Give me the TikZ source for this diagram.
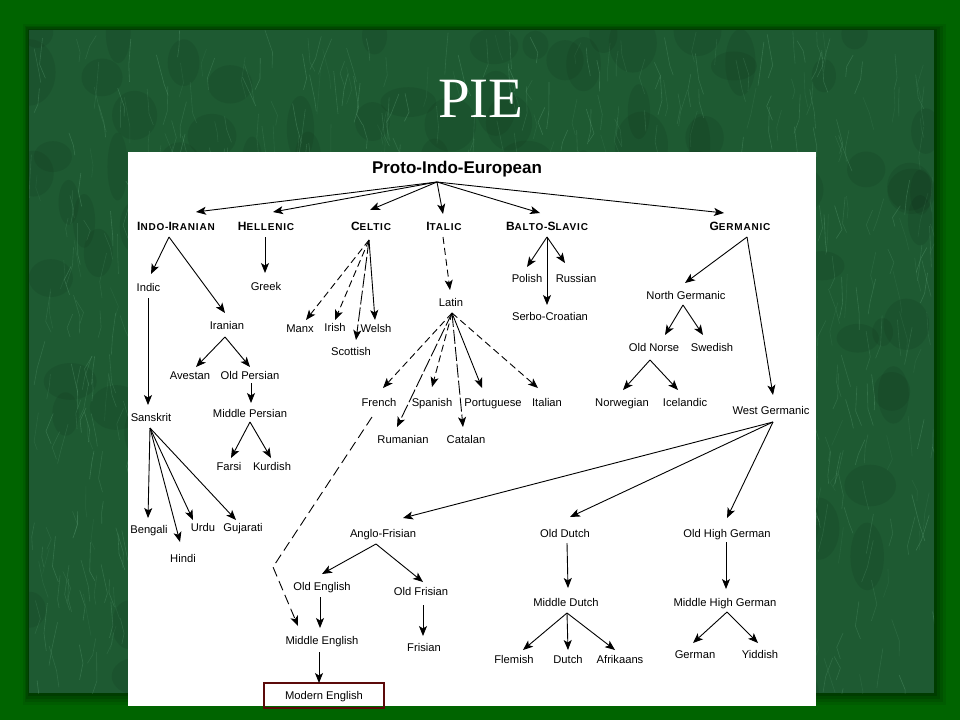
\documentclass[tikz,border=0pt]{standalone}
\usepackage{fontspec}
\setmainfont{Liberation Sans}
\newfontfamily\titlefont{Liberation Serif}
\newfontfamily\hdfont[LetterSpace=8]{Liberation Sans}
\usetikzlibrary{arrows.meta,calc}
\definecolor{outergreen}{HTML}{006400}
\definecolor{marble}{HTML}{1E5A32}
\definecolor{marblelight}{HTML}{6FB088}
\definecolor{boxred}{HTML}{5C0A0A}
\newcommand\hdr[4]{{\hdfont\bfseries\fontsize{12}{12}\selectfont #1\fontsize{10}{10}\selectfont #2\fontsize{12}{12}\selectfont #3\fontsize{10}{10}\selectfont #4}}
\newcommand\lnk[5][]{\draw[arr,#1] ($(#2)+(#3)$) -- ($(#4)+(#5)$);}
\begin{document}
\begin{tikzpicture}[x=1pt,y=-1pt,
  lang/.style={font=\fontsize{11.2}{12}\selectfont, inner sep=0pt, text height=8pt, text depth=0pt},
  hd/.style={inner sep=0pt, text height=8.6pt, text depth=0pt},
  arr/.style={-{Stealth[length=10pt,width=8pt,inset=2.5pt]}, line width=0.9pt},
  dsh/.style={dash pattern=on 7pt off 4pt},
]
\useasboundingbox (0,0) rectangle (960,720);
% background
\fill[outergreen] (0,0) rectangle (960,720);
\foreach \o/\a in {12/0.08,9/0.10,6/0.12,3/0.16}{
  \fill[black,opacity=\a] (29-\o/2,30-\o/2) rectangle (934+\o,693+\o);
}
\fill[marble] (29,30) rectangle (934,693);
\begin{scope}
  \clip (29,30) rectangle (934,693);
  \pgfmathsetseed{11}
  \foreach \i in {1,...,160}{
    \pgfmathsetmacro\xx{29+rnd*905}
    \pgfmathsetmacro\yy{30+rnd*663}
    \fill[black,opacity=0.07] (\xx,\yy) ellipse ({10+rnd*18} and {14+rnd*20});
  }
  \foreach \i in {1,...,900}{
    \pgfmathsetmacro\xx{29+rnd*905}
    \pgfmathsetmacro\yy{30+rnd*663}
    \pgfmathsetmacro\dx{rand*8}
    \pgfmathsetmacro\dy{10+rnd*22}
    \pgfmathsetmacro\op{0.10+rnd*0.22}
    \draw[marblelight,opacity=\op,line width=0.6pt] (\xx,\yy) -- ++(\dx,\dy) -- ++(rand*6,8+rnd*10);
  }
\end{scope}
\fill[white] (128,152) rectangle (816,706);

% title
\node[font=\titlefont\fontsize{57}{57}\selectfont, text=white, inner sep=0pt, text height=37.7pt, text depth=0pt] (title) at (481,99) {PIE};

% nodes
\node[font=\bfseries\fontsize{17}{17}\selectfont, inner sep=0pt, text height=12.2pt, text depth=0pt] (pie) at (457,167) {Proto-Indo-European};
\node[hd] (ii)  at (176,226) {\hdr{I}{NDO-}{I}{RANIAN}};
\node[hd] (hel) at (266,226) {\hdr{H}{ELLENIC}{}{}};
\node[hd] (cel) at (371,226) {\hdr{C}{ELTIC}{}{}};
\node[hd] (ita) at (444,226) {\hdr{I}{TALIC}{}{}};
\node[hd] (bs)  at (547,226) {\hdr{B}{ALTO-}{S}{LAVIC}};
\node[hd] (ger) at (740,226) {\hdr{G}{ERMANIC}{}{}};

\node[lang] (indic) at (148.5,287) {Indic};
\node[lang] (iranian) at (227,325) {Iranian};
\node[lang] (greek) at (266,286) {Greek};
\node[lang] (manx) at (300,328) {Manx};
\node[lang] (irish) at (335,327) {Irish};
\node[lang] (welsh) at (376,328) {Welsh};
\node[lang] (scottish) at (351,351) {Scottish};
\node[lang] (latin) at (451,302) {Latin};
\node[lang] (polish) at (527,278) {Polish};
\node[lang] (russian) at (576,278) {Russian};
\node[lang] (serbo) at (550,316) {Serbo-Croatian};
\node[lang] (northg) at (686,295) {North Germanic};
\node[lang] (oldnorse) at (654,347) {Old Norse};
\node[lang] (swedish) at (712,347) {Swedish};
\node[lang] (westg) at (771,410) {West Germanic};
\node[lang] (avestan) at (190,375) {Avestan};
\node[lang] (oldpersian) at (250,375) {Old Persian};
\node[lang] (midpersian) at (250,413) {Middle Persian};
\node[lang] (farsi) at (229,466) {Farsi};
\node[lang] (kurdish) at (272,466) {Kurdish};
\node[lang] (sanskrit) at (151,417) {Sanskrit};
\node[lang] (french) at (379,402) {French};
\node[lang] (spanish) at (432,402) {Spanish};
\node[lang] (portuguese) at (493,402) {Portuguese};
\node[lang] (italian) at (547,402) {Italian};
\node[lang] (rumanian) at (403,439) {Rumanian};
\node[lang] (catalan) at (466,439) {Catalan};
\node[lang] (norwegian) at (622,402) {Norwegian};
\node[lang] (icelandic) at (685,402) {Icelandic};
\node[lang] (bengali) at (149,529) {Bengali};
\node[lang] (hindi) at (183,558) {Hindi};
\node[lang] (urdu) at (203,527) {Urdu};
\node[lang] (gujarati) at (243,527) {Gujarati};
\node[lang] (anglofr) at (383,533) {Anglo-Frisian};
\node[lang] (olddutch) at (565,533) {Old Dutch};
\node[lang] (ohg) at (727,533) {Old High German};
\node[lang] (oldeng) at (322,586) {Old English};
\node[lang] (oldfris) at (421,591) {Old Frisian};
\node[lang] (mideng) at (322,640) {Middle English};
\node[lang] (frisian) at (424,647) {Frisian};
\node[lang] (middutch) at (566,602) {Middle Dutch};
\node[lang] (mhg) at (725,602) {Middle High German};
\node[lang] (flemish) at (514,659) {Flemish};
\node[lang] (dutch) at (568,659) {Dutch};
\node[lang] (afrikaans) at (620,659) {Afrikaans};
\node[lang] (german) at (695,654) {German};
\node[lang] (yiddish) at (760,654) {Yiddish};
\node[lang, draw=boxred, line width=1.6pt, minimum width=120pt, minimum height=25pt, inner sep=0pt] (modeng) at (324,695.5) {Modern English};
\coordinate (bend) at (273,567);

% connectors
\lnk{pie}{-20,15}{ii}{20,-14}
\lnk{pie}{-20,15}{hel}{7,-14}
\lnk{pie}{-20,15}{cel}{-1,-16}
\lnk{pie}{-20,15}{ita}{-1,-12}
\lnk{pie}{-20,15}{bs}{-7,-13}
\lnk{pie}{-20,15}{ger}{-16,-13}

\lnk{ii}{-7,11}{indic}{2.5,-13}
\lnk{ii}{-7,11}{iranian}{-2,-12}
\lnk{hel}{-1,11}{greek}{-1,-13}
\lnk[dsh]{cel}{-2,14}{manx}{6,-8}
\lnk[dsh]{cel}{-2,14}{irish}{0,-7}
\lnk[dash pattern=on 14pt off 3pt]{cel}{-2,14}{scottish}{5,-11}
\lnk{cel}{-2,14}{welsh}{-1,-8}
\lnk[dsh]{ita}{-1,11}{latin}{-1,-12}

\lnk[dsh]{latin}{1,11}{french}{4,-14}
\lnk[dsh]{latin}{1,11}{spanish}{0,-15}
\lnk{latin}{1,11}{portuguese}{-11,-14}
\lnk[dsh]{latin}{1,11}{italian}{-9,-14}
\lnk[dash pattern=on 14pt off 3pt]{latin}{1,11}{rumanian}{-6,-12}
\lnk[dash pattern=on 14pt off 3pt]{latin}{1,11}{catalan}{-3,-12}
\draw[arr,dash pattern=on 10pt off 5pt] ($(french)+(-7,15)$) -- (bend) -- ($(mideng)+(-24,-14)$);

\lnk{bs}{0,11}{polish}{0,-11}
\lnk{bs}{0,11}{russian}{-11,-15}
\lnk{bs}{0,11}{serbo}{-3,-11}

\lnk{ger}{7,11}{northg}{-1,-12}
\lnk{ger}{7,11}{westg}{2,-15}
\lnk{northg}{-3,10}{oldnorse}{11,-12}
\lnk{northg}{-3,10}{swedish}{-9,-12}
\lnk{oldnorse}{-4,13}{norwegian}{1,-12}
\lnk{oldnorse}{-4,13}{icelandic}{-7,-12}

\lnk{westg}{2,12}{anglofr}{20,-15}
\lnk{westg}{2,12}{olddutch}{5,-16}
\lnk{westg}{2,12}{ohg}{0,-15}
\lnk{anglofr}{-7,11}{oldeng}{0,-12}
\lnk{anglofr}{-7,11}{oldfris}{2,-9}
\lnk{oldeng}{-2,11}{mideng}{-2,-12}
\lnk{oldfris}{2,14}{frisian}{-1,-11}
\lnk{mideng}{-3,12}{modeng}{-5,-12.5}
\lnk{olddutch}{2,10}{middutch}{2,-14}
\lnk{middutch}{1,11}{flemish}{9,-9}
\lnk{middutch}{1,11}{dutch}{0,-9}
\lnk{middutch}{1,11}{afrikaans}{-5,-9}
\lnk{ohg}{-1,9}{mhg}{1,-13}
\lnk{mhg}{2,10}{german}{-2,-11}
\lnk{mhg}{2,10}{yiddish}{-2,-11}

\lnk{indic}{-0.5,11}{sanskrit}{-3,-12}
\lnk{iranian}{-2,12}{avestan}{6,-8}
\lnk{iranian}{-2,12}{oldpersian}{0,-8}
\lnk{oldpersian}{1,8}{midpersian}{1,-10}
\lnk{midpersian}{0,9}{farsi}{2,-8}
\lnk{midpersian}{0,9}{kurdish}{-1,-8}
\lnk{sanskrit}{-1,11}{bengali}{-1,-11}
\lnk{sanskrit}{-1,11}{hindi}{-3,-16}
\lnk{sanskrit}{-1,11}{urdu}{-10,-7}
\lnk{sanskrit}{-1,11}{gujarati}{-7,-7}
\end{tikzpicture}
\end{document}
